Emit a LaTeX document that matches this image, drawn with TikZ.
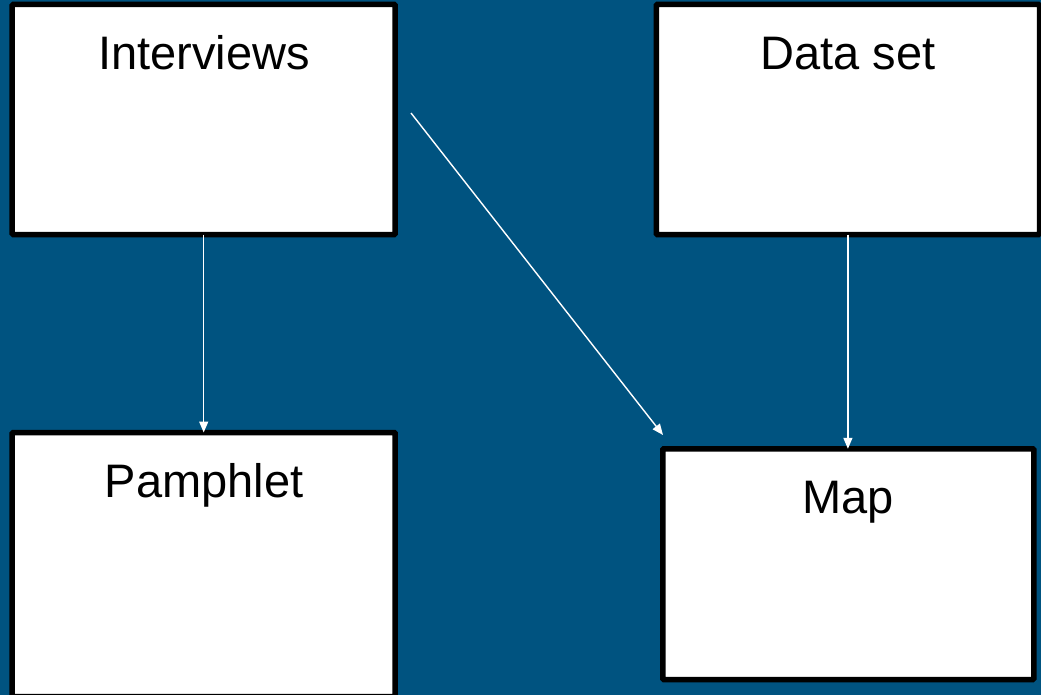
\documentclass[tikz,border=0pt]{standalone}
\usepackage{fontspec}
\setmainfont{Liberation Sans}
\usetikzlibrary{arrows.meta}
\definecolor{bgblue}{RGB}{0,83,128}
\tikzset{
  box/.style={draw=black, fill=white, line width=5.5pt, rounded corners=1pt, inner sep=0pt, outer sep=0pt, anchor=north west},
  lbl/.style={anchor=base, inner sep=0pt, font=\fontsize{47}{56}\selectfont, text=black},
  conn/.style={draw=white, line width=1.4pt, -{Triangle[length=11pt,width=9pt]}}
}
\begin{document}
\begin{tikzpicture}[x=1pt,y=-1pt]
\fill[bgblue] (0,0) rectangle (1041,695);
\useasboundingbox (0,0) rectangle (1041,695);
\node[box, minimum width=383pt, minimum height=230pt] (int) at (12.2,4.5) {};
\node[box, minimum width=383.2pt, minimum height=230pt] (ds) at (656.3,4.5) {};
\node[box, minimum width=383pt, minimum height=264pt] (pam) at (12.2,432.5) {};
\node[box, minimum width=371pt, minimum height=230.7pt] (map) at (662.8,448.8) {};
\node[lbl] (tint) at (204,70) {Interviews};
\node[lbl] (tds) at (848,70) {Data set};
\node[lbl] (tpam) at (204,497) {Pamphlet};
\node[lbl] (tmap) at (848,513) {Map};
\coordinate (d1) at (411,113);
\coordinate (d2) at (663,435);
\draw[conn] (int.south) -- (int.south |- pam.north);
\draw[conn] (ds.south) -- (ds.south |- map.north);
\draw[conn] (d1) -- (d2);
\end{tikzpicture}
\end{document}
